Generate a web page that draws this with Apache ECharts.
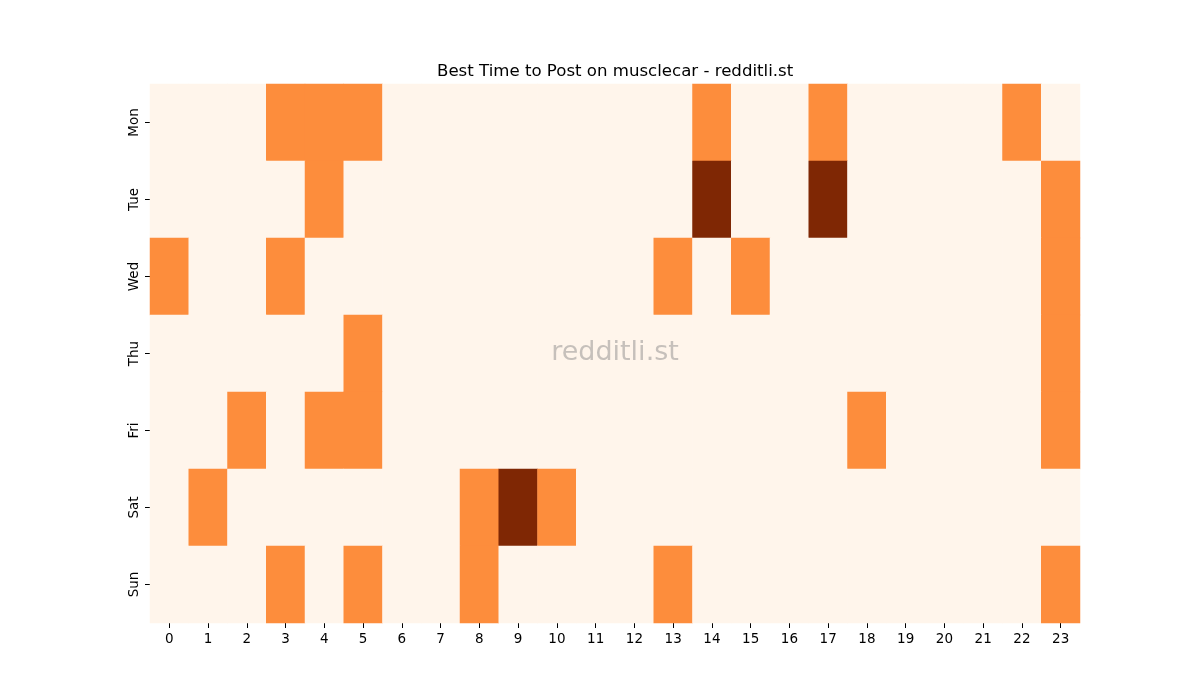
<!DOCTYPE html>
<html>
<head>
<meta charset="utf-8">
<script src="https://cdn.jsdelivr.net/npm/echarts@6/dist/echarts.min.js"></script>
<style>html,body{margin:0;padding:0;background:#fff}#c{width:1200px;height:700px}</style>
</head>
<body>
<div id="c"></div>
<script>
const hours = ['0','1','2','3','4','5','6','7','8','9','10','11','12','13','14','15','16','17','18','19','20','21','22','23'];
const days = ['Mon','Tue','Wed','Thu','Fri','Sat','Sun'];
const mon = [0,0,0,1,1,1,0,0,0,0,0,0,0,0,1,0,0,1,0,0,0,0,1,0];
const tue = [0,0,0,0,1,0,0,0,0,0,0,0,0,0,2,0,0,2,0,0,0,0,0,1];
const wed = [1,0,0,1,0,0,0,0,0,0,0,0,0,1,0,1,0,0,0,0,0,0,0,1];
const thu = [0,0,0,0,0,1,0,0,0,0,0,0,0,0,0,0,0,0,0,0,0,0,0,1];
const fri = [0,0,1,0,1,1,0,0,0,0,0,0,0,0,0,0,0,0,1,0,0,0,0,1];
const sat = [0,1,0,0,0,0,0,0,1,2,1,0,0,0,0,0,0,0,0,0,0,0,0,0];
const sun = [0,0,0,1,0,1,0,0,1,0,0,0,0,1,0,0,0,0,0,0,0,0,0,1];
const rows = [mon,tue,wed,thu,fri,sat,sun];

const data = [];
rows.forEach((r, y) => r.forEach((v, x) => data.push([x, y, v])));

const font = 'DejaVu Sans';
const chart = echarts.init(document.getElementById('c'));
chart.setOption({
  backgroundColor: '#fff',
  animation: false,
  title: {
    text: 'Best Time to Post on musclecar - redditli.st',
    left: 432, top: 58,
    textStyle: {fontFamily: font, fontSize: 16.6, fontWeight: 'normal', color: '#000'}
  },
  grid: {left: 150, right: 120, top: 84, bottom: 77},
  xAxis: {
    type: 'category', data: hours,
    axisLine: {show: false},
    axisTick: {show: true, alignWithLabel: true, length: 5, lineStyle: {color: '#000', width: 1}},
    axisLabel: {fontFamily: font, fontSize: 13.5, color: '#000', margin: 9},
    splitLine: {show: false}
  },
  yAxis: {
    type: 'category', data: days, inverse: true,
    axisLine: {show: false},
    axisTick: {show: true, alignWithLabel: true, length: 5, lineStyle: {color: '#000', width: 1}},
    axisLabel: {fontFamily: font, fontSize: 13.5, color: '#000', rotate: 90, margin: 9},
    splitLine: {show: false}
  },
  visualMap: {
    show: false, type: 'piecewise', dimension: 2,
    pieces: [
      {value: 0, color: '#fff5eb'},
      {value: 1, color: '#fd8d3c'},
      {value: 2, color: '#7f2704'}
    ]
  },
  series: [{
    type: 'heatmap', data: data,
    itemStyle: {borderWidth: 0},
    emphasis: {disabled: true}
  }],
  graphic: [{
    type: 'text', x: 615, y: 353, z: 100,
    style: {
      text: 'redditli.st', x: 0, y: 0,
      textAlign: 'center', textVerticalAlign: 'middle',
      font: '27px "DejaVu Sans"', fill: 'rgba(128,128,128,0.45)'
    }
  }]
});
</script>
</body>
</html>
